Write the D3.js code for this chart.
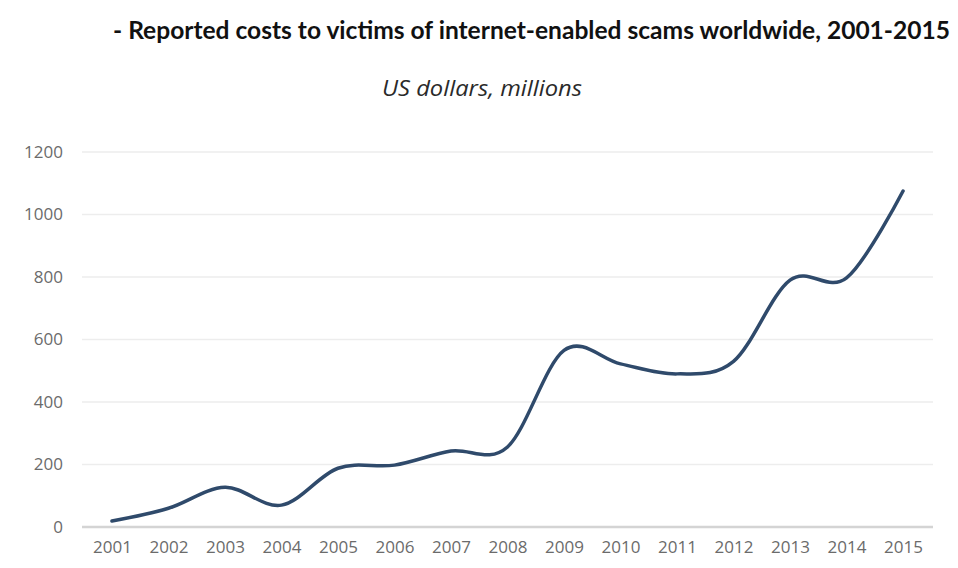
<!DOCTYPE html>
<html>
<head>
<meta charset="utf-8">
<script src="https://cdn.jsdelivr.net/npm/d3@7"></script>
<style>
  body { margin: 0; background: #fff; }
</style>
</head>
<body>
<div id="chart"></div>
<script>
// data
const years = ["2001", "2002", "2003", "2004", "2005", "2006", "2007", "2008",
               "2009", "2010", "2011", "2012", "2013", "2014", "2015"];
const costs = [19, 60, 127, 70, 188, 198, 243, 256, 565, 522, 490, 530, 790, 797, 1075];
const yTicks = [0, 200, 400, 600, 800, 1000, 1200];

const W = 958, H = 568;
const margin = {top: 152, right: 25, bottom: 41, left: 82};
const width = W - margin.left - margin.right;
const height = H - margin.top - margin.bottom;

const root = d3.select("#chart").append("svg")
  .attr("width", W)
  .attr("height", H);

// title + subtitle
root.append("text")
  .attr("x", 950).attr("y", 39)
  .attr("text-anchor", "end")
  .attr("textLength", 837)
  .attr("lengthAdjust", "spacingAndGlyphs")
  .style("font-family", "Lato, 'Open Sans', sans-serif")
  .style("font-weight", "bold")
  .style("font-size", "24px")
  .style("fill", "#111")
  .text("- Reported costs to victims of internet-enabled scams worldwide, 2001-2015");

root.append("text")
  .attr("x", 482).attr("y", 96)
  .attr("text-anchor", "middle")
  .attr("textLength", 200)
  .attr("lengthAdjust", "spacingAndGlyphs")
  .style("font-family", "'Open Sans', sans-serif")
  .style("font-style", "italic")
  .style("font-size", "22px")
  .style("fill", "#2a2a2a")
  .text("US dollars, millions");

const svg = root.append("g")
  .attr("transform", "translate(" + margin.left + "," + margin.top + ")");

const x = d3.scalePoint()
  .domain(years)
  .range([0, width])
  .padding(0.53);

const y = d3.scaleLinear()
  .domain([0, 1200])
  .range([height, 0]);

// gridlines
svg.append("g")
  .selectAll("line")
  .data(yTicks)
  .enter()
  .append("line")
  .attr("x1", 0).attr("x2", width)
  .attr("y1", d => y(d)).attr("y2", d => y(d))
  .attr("stroke", d => d === 0 ? "#d4d4d4" : "#ededed")
  .attr("stroke-width", d => d === 0 ? 2.5 : 1.5);

// y axis labels
const yAxis = svg.append("g")
  .attr("transform", "translate(-16,0)")
  .call(d3.axisLeft(y).tickValues(yTicks).tickSize(0).tickFormat(d3.format("d")));
yAxis.select(".domain").remove();
yAxis.selectAll("text")
  .style("font-family", "'Open Sans', sans-serif")
  .style("font-size", "17px")
  .style("fill", "#6b6b6b");

// x axis labels
const xAxis = svg.append("g")
  .attr("transform", "translate(0," + height + ")")
  .call(d3.axisBottom(x).tickSize(0).tickPadding(14));
xAxis.select(".domain").remove();
xAxis.selectAll("text")
  .style("font-family", "'Open Sans', sans-serif")
  .style("font-size", "17px")
  .style("fill", "#6b6b6b");

// smoothed line
const line = d3.line()
  .x((d, i) => x(years[i]))
  .y(d => y(d))
  .curve(d3.curveCardinal.tension(0));

svg.append("path")
  .datum(costs)
  .attr("d", line)
  .attr("fill", "none")
  .attr("stroke", "#2f4a6b")
  .attr("stroke-width", 3.5)
  .attr("stroke-linecap", "round");
</script>
</body>
</html>
